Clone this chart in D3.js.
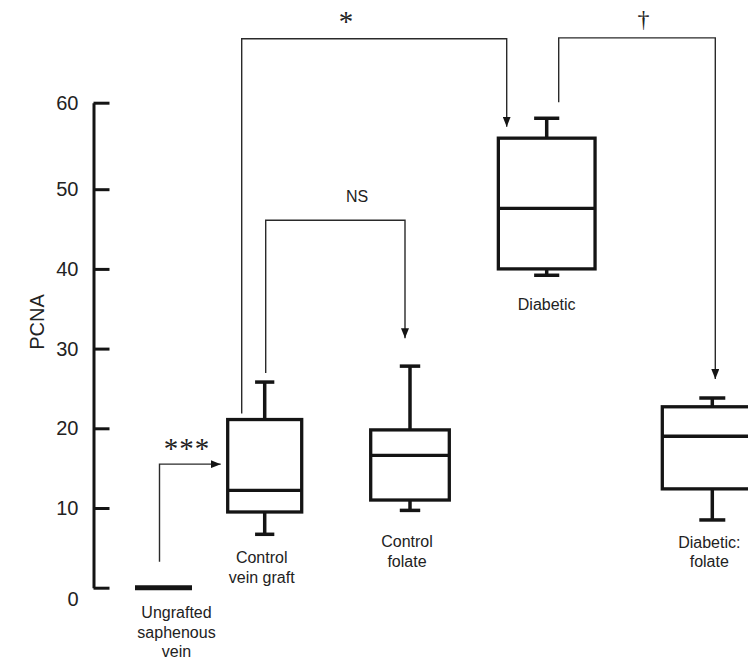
<!DOCTYPE html>
<meta charset="utf-8">
<style>
  body { margin: 0; background: #fff; }
  svg { display: block; font-family: "Liberation Sans", Arial, sans-serif; }
</style>
<script src="https://d3js.org/d3.v7.min.js"></script>
<div id="chart"></div>
<script>
// data
var groups = ["Ungrafted saphenous vein", "Control vein graft", "Control folate", "Diabetic", "Diabetic: folate"];
var groupLines = [["Ungrafted", "saphenous", "vein"], ["Control", "vein graft"], ["Control", "folate"], ["Diabetic"], ["Diabetic:", "folate"]];
var mins    = [0, 6.7, 9.7, 39.2, 8.5];
var q1s     = [0, 9.5, 11.0, 40.0, 12.4];
var medians = [0, 12.2, 16.6, 47.6, 19.0];
var q3s     = [0, 21.1, 19.8, 55.9, 22.7];
var maxs    = [0, 25.8, 27.8, 58.2, 23.8];
var yTicks  = [0, 10, 20, 30, 40, 50, 60];

var data = groups.map(function(g, i) {
  return {group: g, lines: groupLines[i], min: mins[i], q1: q1s[i], median: medians[i], q3: q3s[i], max: maxs[i]};
});

var width = 748, height = 667;

var svg = d3.select("#chart").append("svg")
    .attr("width", width)
    .attr("height", height);

// the original axis is not quite even (top interval is stretched)
var y = d3.scaleLinear()
  .domain([0, 50, 60])
  .range([587.7, 189.2, 102.7]);

// group centres and box widths as laid out in the figure
var x = d3.scaleOrdinal().domain(groups).range([163.5, 264.7, 410, 546.7, 712.3]);
var boxW = d3.scaleOrdinal().domain(groups).range([57, 74, 78.6, 96.7, 100]);
var labelDx = [13, -3, -3, 0, -3];
var labelY = [618, 563, 547, 309.5, 547.5];

var ink = "#141414";

// y axis
var yAxis = svg.append("g")
  .attr("transform", "translate(93.5,0)")
  .call(d3.axisLeft(y).tickValues(yTicks).tickSize(-16).tickSizeOuter(0).tickPadding(15));

yAxis.select(".domain").attr("stroke", ink).attr("stroke-width", 3);
yAxis.selectAll(".tick line").attr("stroke", ink).attr("stroke-width", 3);
yAxis.selectAll(".tick text")
  .attr("fill", "#222")
  .style("font-size", "20px")
  .style("font-family", '"Liberation Sans", Arial, sans-serif');
yAxis.selectAll(".tick").filter(function(d) { return d === 0; })
  .select("text").attr("y", 11);

svg.append("text")
  .attr("transform", "translate(44,322) rotate(-90)")
  .attr("text-anchor", "middle")
  .attr("fill", "#222")
  .style("font-size", "20px")
  .text("PCNA");

// boxes
var box = svg.selectAll(".box")
  .data(data)
  .enter().append("g")
  .attr("class", "box");

box.append("line")
  .attr("x1", function(d) { return x(d.group); })
  .attr("x2", function(d) { return x(d.group); })
  .attr("y1", function(d) { return y(d.q3); })
  .attr("y2", function(d) { return y(d.max); })
  .attr("stroke", ink).attr("stroke-width", 3.5);

box.append("line")
  .attr("x1", function(d) { return x(d.group); })
  .attr("x2", function(d) { return x(d.group); })
  .attr("y1", function(d) { return y(d.q1); })
  .attr("y2", function(d) { return y(d.min); })
  .attr("stroke", ink).attr("stroke-width", 3.5);

box.selectAll(".cap")
  .data(function(d) { return d.max > 0 ? [d, d].map(function(e, k) { return {g: e.group, v: k ? e.max : e.min}; }) : []; })
  .enter().append("line")
  .attr("x1", function(d) { return x(d.g) - boxW(d.g) * 0.13; })
  .attr("x2", function(d) { return x(d.g) + boxW(d.g) * 0.13; })
  .attr("y1", function(d) { return y(d.v); })
  .attr("y2", function(d) { return y(d.v); })
  .attr("stroke", ink).attr("stroke-width", 3.5);

box.append("rect")
  .attr("x", function(d) { return x(d.group) - boxW(d.group) / 2; })
  .attr("y", function(d) { return y(d.q3); })
  .attr("width", function(d) { return boxW(d.group); })
  .attr("height", function(d) { return y(d.q1) - y(d.q3); })
  .attr("fill", "#fff")
  .attr("stroke", ink)
  .attr("stroke-width", function(d) { return d.q3 === d.q1 ? 5 : 3.3; });

box.append("line")
  .attr("x1", function(d) { return x(d.group) - boxW(d.group) / 2; })
  .attr("x2", function(d) { return x(d.group) + boxW(d.group) / 2; })
  .attr("y1", function(d) { return y(d.median); })
  .attr("y2", function(d) { return y(d.median); })
  .attr("stroke", ink)
  .attr("stroke-width", function(d) { return d.q3 === d.q1 ? 5 : 3.3; });

// group labels
box.append("text")
  .attr("text-anchor", "middle")
  .attr("fill", "#222")
  .style("font-size", "16px")
  .each(function(d, i) {
    var t = d3.select(this);
    d.lines.forEach(function(s, k) {
      t.append("tspan")
        .attr("x", x(d.group) + labelDx[i])
        .attr("y", labelY[i] + k * 19.5)
        .text(s);
    });
  });

// significance brackets
svg.append("defs").append("marker")
  .attr("id", "arrow")
  .attr("markerUnits", "userSpaceOnUse")
  .attr("markerWidth", 10).attr("markerHeight", 8)
  .attr("refX", 10).attr("refY", 4)
  .attr("orient", "auto")
  .append("path")
  .attr("d", "M0,0L10,4L0,8Z")
  .attr("fill", ink);

function bracket(pts, mark, tx, ty, size, fam, spacing) {
  svg.append("path")
    .attr("d", d3.line()(pts))
    .attr("fill", "none")
    .attr("stroke", "#2a2a2a")
    .attr("stroke-width", 1.4)
    .attr("marker-end", "url(#arrow)");
  svg.append("text")
    .attr("x", tx).attr("y", ty)
    .attr("text-anchor", "middle")
    .attr("fill", "#222")
    .style("font-size", size)
    .style("font-family", fam)
    .style("letter-spacing", spacing || null)
    .text(mark);
}

var d0 = data[0], d1 = data[1], d2 = data[2], d3_ = data[3], d4 = data[4];
var serif = '"Liberation Serif", "DejaVu Serif", serif';
var sans = '"Liberation Sans", Arial, sans-serif';

// *** ungrafted -> control vein graft
bracket([[x(d0.group) - 4, y(d0.max) - 26], [x(d0.group) - 4, y(15.5)],
         [x(d1.group) - boxW(d1.group) / 2 - 7, y(15.5)]],
        "***", 187, 458, "29px", serif, "1px");

// NS control vein graft -> control folate
bracket([[x(d1.group) + 1, y(d1.max) - 9], [x(d1.group) + 1, y(46.1)],
         [x(d2.group) - 5, y(46.1)], [x(d2.group) - 5, y(d2.max) - 28]],
        "NS", 357, 202, "16px", sans);

// * control vein graft -> diabetic
bracket([[x(d1.group) - 23, y(d1.q3) - 6], [x(d1.group) - 23, y(67.4)],
         [x(d3_.group) - 40, y(67.4)], [x(d3_.group) - 40, y(d3_.q3) - 11.5]],
        "*", 346, 31, "29px", serif);

// dagger diabetic -> diabetic: folate
bracket([[x(d3_.group) + 12, y(d3_.max) - 16], [x(d3_.group) + 12, y(67.5)],
         [x(d4.group) + 3, y(67.5)], [x(d4.group) + 3, y(d4.max) - 19]],
        "\u2020", 643.5, 27, "24px", serif);
</script>
